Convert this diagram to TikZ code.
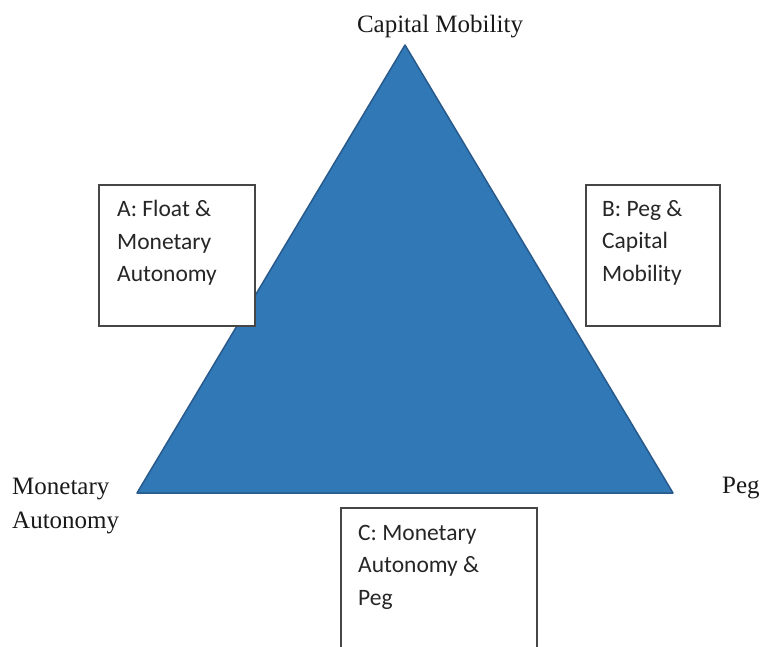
\documentclass[tikz,border=0pt]{standalone}
\usepackage{fontspec}
\setmainfont{Liberation Serif}
\newfontfamily\boxfont{Carlito}
\definecolor{trifill}{RGB}{49,120,183}
\definecolor{triedge}{RGB}{40,90,140}
\definecolor{boxedge}{RGB}{70,70,70}
\begin{document}
\begin{tikzpicture}[x=1pt,y=-1pt,
  box/.style={draw=boxedge,line width=1.6pt,fill=white,minimum width=#1,anchor=north west,inner sep=0pt},
  boxtext/.style={font=\boxfont\fontsize{23.5}{32.5}\selectfont,align=left,anchor=north west,inner sep=0pt,text=black!85},
  lbl/.style={font=\fontsize{25}{33}\selectfont,inner sep=0pt,text=black!90}]
\useasboundingbox (0,0) rectangle (763,647);
\coordinate (top) at (405,45);
\coordinate (bl) at (137,493);
\coordinate (br) at (673,493);
\filldraw[fill=trifill,draw=triedge,line width=1.5pt,line join=round] (top) -- (bl) -- (br) -- cycle;
\node[box=156pt,minimum height=141pt] (A) at (98,184) {};
\node[box=134pt,minimum height=141pt] (B) at (585,184) {};
\draw[boxedge,line width=1.6pt,fill=white] (341,660) -- (341,508) -- (537,508) -- (537,660);
\node[boxtext] (At) at (117,200) {A: Float \&\\Monetary\\Autonomy};
\node[boxtext] (Bt) at (602,200) {B: Peg \&\\Capital\\Mobility};
\node[boxtext] (Ct) at (358,525) {C: Monetary\\Autonomy \&\\Peg};
\node[lbl,anchor=base] (cm) at (440,33) {Capital Mobility};
\node[lbl,anchor=base west,align=left] (ma) at (12,494) {Monetary};
\node[lbl,anchor=base west,align=left] (ma2) at (12,528) {Autonomy};
\node[lbl,anchor=base west] (peg) at (722,493) {Peg};
\end{tikzpicture}
\end{document}
